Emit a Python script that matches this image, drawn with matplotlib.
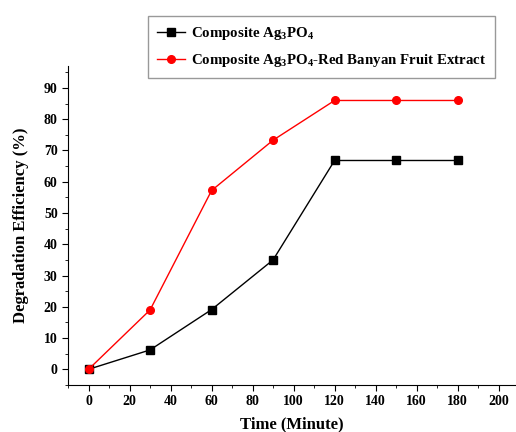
import matplotlib
matplotlib.use('Agg')
import matplotlib.pyplot as plt
from matplotlib.ticker import MultipleLocator

plt.rcParams['font.family'] = 'Liberation Serif'
plt.rcParams['font.weight'] = 'bold'
plt.rcParams['mathtext.fontset'] = 'custom'
plt.rcParams['mathtext.rm'] = 'Liberation Serif:bold'
plt.rcParams['mathtext.default'] = 'rm'

tempo = [0, 30, 60, 90, 120, 150, 180]
ag3po4 = [0, 6.2, 19.1, 35.0, 66.8, 66.8, 66.8]
ag3po4_extrato = [0, 19.0, 57.2, 73.3, 86.0, 86.0, 86.0]

fig = plt.figure(figsize=(5.16, 4.32), dpi=100)
ax = fig.add_axes([0.132, 0.109, 0.866, 0.738])

ax.plot(tempo, ag3po4, color='black', lw=1, marker='s', ms=5.5,
        label=r'Composite Ag$_3$PO$_4$')
ax.plot(tempo, ag3po4_extrato, color='red', lw=1, marker='o', ms=5.5,
        label=r'Composite Ag$_3$PO$_4$-Red Banyan Fruit Extract')

ax.set_xlim(-10, 208)
ax.set_ylim(-5, 97)
ax.xaxis.set_major_locator(MultipleLocator(20))
ax.xaxis.set_minor_locator(MultipleLocator(10))
ax.yaxis.set_major_locator(MultipleLocator(10))
ax.yaxis.set_minor_locator(MultipleLocator(5))
ax.tick_params(which='both', direction='out', labelsize=10)
ax.tick_params(which='major', length=4)
ax.tick_params(which='minor', length=2.5)
ax.spines['top'].set_visible(False)
ax.spines['right'].set_visible(False)

ax.set_xlabel('Time (Minute)', fontsize=12, fontweight='bold', labelpad=6)
ax.set_ylabel('Degradation Efficiency (%)', fontsize=12, fontweight='bold', labelpad=11)

fig.legend(loc='upper left', bbox_to_anchor=(0.287, 0.963), borderaxespad=0,
           fontsize=10.7, fancybox=False, edgecolor='#999999', framealpha=1,
           borderpad=0.6, handlelength=1.9, handletextpad=0.4, labelspacing=0.7)

plt.savefig('out.png', dpi=100)
